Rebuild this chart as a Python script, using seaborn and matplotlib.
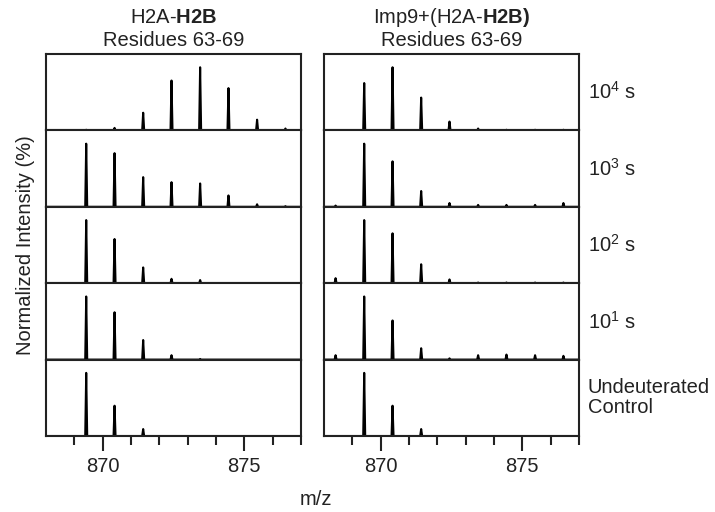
import pandas as pd
import numpy as np
import seaborn as sns
import matplotlib.pyplot as plt
from matplotlib.ticker import FixedLocator

# peak centres (m/z), first one is the small 868.4 peak seen only in the Imp9 complex
mz = [868.41, 869.42, 870.42, 871.43, 872.43, 873.44, 874.44, 875.45, 876.45]

times = ["10$^4$ s", "10$^3$ s", "10$^2$ s", "10$^1$ s", "Undeuterated\nControl"]

# normalized intensities (%), one list per time point
h2b_10e4 = [0, 1, 4, 28, 79, 100, 67, 17, 3]
h2b_10e3 = [0, 100, 85, 47, 39, 37, 18, 4, 1]
h2b_10e2 = [0, 100, 70, 25, 7, 5, 0, 0, 0]
h2b_10e1 = [0, 100, 75, 31, 7, 1, 0, 0, 0]
h2b_ctrl = [0, 100, 48, 11, 0, 0, 0, 0, 0]

imp9_10e4 = [0, 75, 100, 52, 14, 3, 1, 1, 1]
imp9_10e3 = [2, 100, 72, 25, 6, 3, 3, 3, 6]
imp9_10e2 = [8, 100, 79, 30, 6, 1, 1, 1, 1]
imp9_10e1 = [7, 100, 62, 18, 2, 7, 8, 7, 6]
imp9_ctrl = [0, 100, 48, 11, 0, 0, 0, 0, 0]

h2b = [h2b_10e4, h2b_10e3, h2b_10e2, h2b_10e1, h2b_ctrl]
imp9 = [imp9_10e4, imp9_10e3, imp9_10e2, imp9_10e1, imp9_ctrl]

titles = [("H2A-$\\mathbf{H2B}$", "Residues 63-69"),
          ("Imp9+(H2A-$\\mathbf{H2B)}$", "Residues 63-69")]

sns.set_style("ticks")
plt.rcParams["font.family"] = ["Liberation Sans", "DejaVu Sans"]
plt.rcParams["mathtext.fontset"] = "custom"
plt.rcParams["mathtext.rm"] = "Liberation Sans"
plt.rcParams["mathtext.bf"] = "Liberation Sans:bold"
plt.rcParams["mathtext.it"] = "Liberation Sans:italic"
plt.rcParams["mathtext.default"] = "regular"
plt.rcParams["text.color"] = "#222222"
plt.rcParams["xtick.color"] = "#222222"

FS = 14.5


def stick_profile(centres, inten, half=0.035):
    xs = [868.0]; ys = [0]
    for m, h in zip(centres, inten):
        xs += [m - half, m, m + half]
        ys += [0, h, 0]
    xs.append(877.0); ys.append(0)
    return pd.DataFrame({"mz": xs, "intensity": ys})


fig, axes = plt.subplots(5, 2, figsize=(7.15, 5.12), dpi=100, sharex=True, sharey=True)
fig.subplots_adjust(left=0.0643, right=0.8098, top=0.8945, bottom=0.1484, hspace=0, wspace=0.09)

for c, series in enumerate([h2b, imp9]):
    for r, inten in enumerate(series):
        ax = axes[r, c]
        df = stick_profile(mz, inten)
        sns.lineplot(data=df, x="mz", y="intensity", ax=ax, color="black", lw=1.5,
                     sort=False, estimator=None)
        ax.set_xlim(868.0, 877.0)
        ax.set_ylim(0, 121)
        ax.set_xlabel(""); ax.set_ylabel("")
        ax.set_yticks([])
        for s in ax.spines.values():
            s.set_visible(True); s.set_linewidth(1.5); s.set_color("#222222")
        if r < 4:
            ax.tick_params(axis="x", which="both", bottom=False, labelbottom=False)
        else:
            ax.set_xticks([870, 875])
            ax.xaxis.set_minor_locator(FixedLocator(np.arange(869, 878)))
            ax.tick_params(axis="x", which="major", length=11, width=1.5, labelsize=FS, pad=4)
            ax.tick_params(axis="x", which="minor", length=6.5, width=1.5)
        if c == 1:
            ax.text(1.035, 0.5, times[r], transform=ax.transAxes, ha="left", va="center",
                    fontsize=FS, linespacing=1.05)
    t1, t2 = titles[c]
    axes[0, c].text(0.5, 1.484, t1, transform=axes[0, c].transAxes, ha="center", va="center", fontsize=FS)
    axes[0, c].text(0.5, 1.183, t2, transform=axes[0, c].transAxes, ha="center", va="center", fontsize=FS)

fig.text(0.036, 0.521, "Normalized Intensity (%)", rotation=90, ha="center", va="center", fontsize=FS)
fig.text(0.442, 0.024, "m/z", ha="center", va="center", fontsize=FS)

plt.savefig("out.png", dpi=100)
